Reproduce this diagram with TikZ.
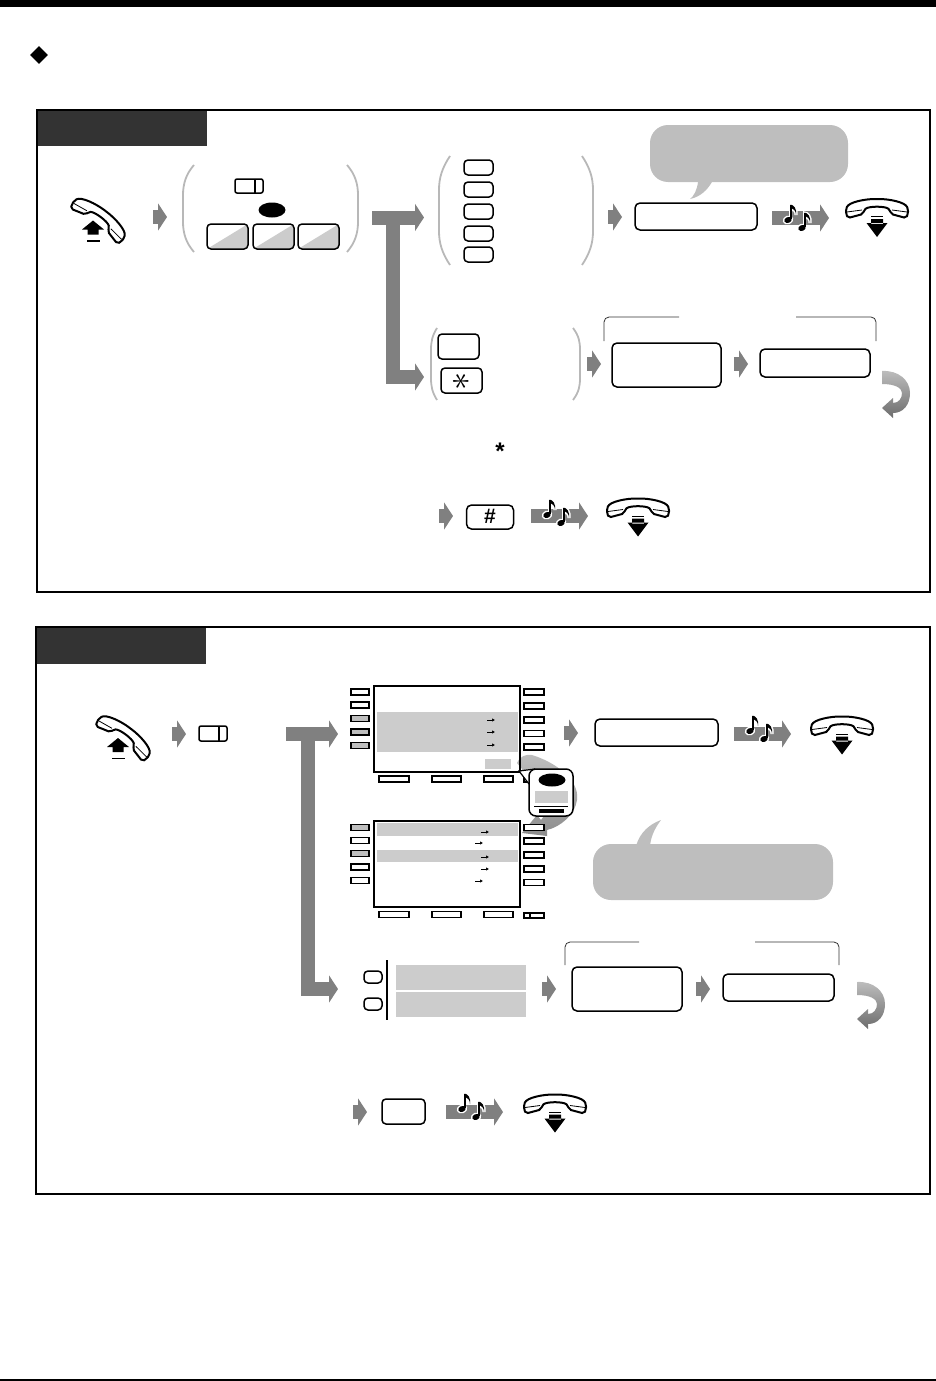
\documentclass[tikz,border=0pt]{standalone}
\usepackage{fontspec}
\setmainfont{Liberation Sans}
\usetikzlibrary{arrows.meta,shapes.geometric}
\pgfdeclarelayer{edgelayer}
\pgfdeclarelayer{nodelayer}
\pgfsetlayers{edgelayer,nodelayer,main}
\definecolor{arrowgrey}{HTML}{808080}
\definecolor{parengrey}{HTML}{B8B8B8}
\definecolor{bubblegrey}{HTML}{BEBEBE}
\definecolor{barsgrey}{HTML}{CCCCCC}
\definecolor{tabgrey}{HTML}{333333}
\tikzset{font=\footnotesize}
\tikzstyle{none}=[inner sep=0pt]
\tikzstyle{frame}=[rectangle,draw=black,line width=2pt,inner sep=0pt,outer sep=0pt]
\tikzstyle{tab}=[rectangle,fill=tabgrey,inner sep=0pt,outer sep=0pt]
\tikzstyle{keybox}=[rectangle,rounded corners=4pt,draw=black,fill=white,line width=1.5pt,inner sep=0pt,outer sep=0pt]
\tikzstyle{softkey}=[keybox,path picture={\fill[barsgrey] (path picture bounding box.south west) -- (path picture bounding box.north east) -- (path picture bounding box.south east) -- cycle;}]
\tikzstyle{sidekey}=[rectangle,draw=black,fill=white,line width=1.7pt,inner sep=0pt,outer sep=0pt]
\tikzstyle{sidekeyon}=[sidekey,fill=bubblegrey]
\tikzstyle{screen}=[rectangle,draw=black,line width=2pt,inner sep=0pt,outer sep=0pt]
\tikzstyle{bar}=[rectangle,fill=barsgrey,inner sep=0pt,outer sep=0pt]
\tikzstyle{bubble}=[rectangle,rounded corners=18pt,fill=bubblegrey,inner sep=0pt,outer sep=0pt]
\tikzstyle{lamp}=[ellipse,fill=black,inner sep=0pt,outer sep=0pt]
\tikzstyle{greyarrow}=[draw=arrowgrey,line width=14pt,-{Triangle[length=9pt,width=27pt]}]
\tikzstyle{paren}=[draw=parengrey,line width=1.8pt]
\tikzstyle{bracket}=[draw=black!80,line width=0.8pt,rounded corners=5pt]
\tikzstyle{cursor}=[draw=black,line width=0.9pt,-{Latex[length=3pt,width=3.5pt]}]
\tikzset{
	handset/.pic={
		\draw [fill=white,line width=2pt,rounded corners=2pt] (-31,0) .. controls (-28,-7) and (-12,-10) .. (0,-10) .. controls (12,-10) and (28,-7) .. (31,0) -- (31,5) -- (29,9) -- (14,5) -- (13,1) .. controls (8,-3) and (-8,-3) .. (-13,1) -- (-14,5) -- (-29,9) -- (-31,5) -- cycle;
		\draw [line width=0.8pt] (-30,3) -- (-15,1) (30,3) -- (15,1);
	},
	onhook/.pic={
		\path pic {handset};
		\fill (-6,7) rectangle (6,8.2);
		\fill (-6,10) rectangle (6,15) (-10.5,14) -- (10.5,14) -- (0,28) -- cycle;
	},
	offhook/.pic={
		\path (1.5,-0.5) pic [rotate=-37] {handset};
		\fill (-5,1) -- (-16,10) -- (-10.5,10) -- (-10.5,15) -- (0.5,15) -- (0.5,10) -- (6,10) -- cycle;
		\fill (-11,20.5) rectangle (1.5,22);
	},
	tonenote/.pic={
		\draw [white,line width=3pt,fill=white] (2.5,0) -- (2.5,-15) .. controls (6,-15) and (9,-11) .. (8,-5) .. controls (8,-9) and (6,-11) .. (2.5,-11);
		\fill [white,rotate=20] (0,0) ellipse (5.4 and 4.4);
		\fill [rotate=20] (0,0) ellipse (3.8 and 2.9);
		\draw [line width=1.4pt] (2.8,-1) -- (2.8,-15);
		\fill (2.5,-15.5) .. controls (6,-15) and (9,-11) .. (8,-5) .. controls (8,-9) and (6,-11) .. (2.5,-12) -- cycle;
	},
	backarrow/.pic={
		\shade [top color=bubblegrey,bottom color=arrowgrey!85!black] (0,1) .. controls (16,0) and (28,10) .. (28,23) .. controls (28,35) and (21,43) .. (11,43) -- (11,48) -- (0,38) -- (11,28) -- (11,33) .. controls (17,33) and (20,28) .. (20,23) .. controls (20,18) and (13,14) .. (0,14) -- cycle;
	}
}
\begin{document}
\begin{tikzpicture}[x=1pt,y=-1pt]
	\useasboundingbox (0,0) rectangle (936,1381);
	\begin{pgfonlayer}{edgelayer}
		\fill [bubblegrey] (698,182) .. controls (697,190) and (694,196) .. (690,199) .. controls (700,197) and (708,190) .. (713,180) -- cycle;
		\fill [bubblegrey] (636,846) .. controls (640,832) and (650,824) .. (661,820) .. controls (655,828) and (651,836) .. (650,846) -- cycle;
		\shade [top color=bubblegrey,bottom color=arrowgrey!90] (517,763) .. controls (520,756) and (526,754) .. (532,755) .. controls (555,762) and (580,780) .. (577,800) .. controls (575,815) and (560,827) .. (547,830) -- (547,836) -- (522,833) -- (537,815) -- (541,820) -- (552,805) -- cycle;
		\draw [style=paren] (194,165) .. controls (186,174) and (183,184) .. (183,195) -- (183,222) .. controls (183,233) and (186,243) .. (194,252);
		\draw [style=paren] (347,165) .. controls (355,174) and (358,184) .. (358,195) -- (358,222) .. controls (358,233) and (355,243) .. (347,252);
		\draw [style=paren] (450,156) .. controls (442,168) and (439,178) .. (439,190) -- (439,231) .. controls (439,243) and (442,253) .. (450,265);
		\draw [style=paren] (582,156) .. controls (590,168) and (593,178) .. (593,190) -- (593,231) .. controls (593,243) and (590,253) .. (582,265);
		\draw [style=paren] (437,328) .. controls (432,336) and (431,342) .. (431,350) -- (431,378) .. controls (431,386) and (432,392) .. (437,400);
		\draw [style=paren] (573,328) .. controls (579,336) and (580,342) .. (580,350) -- (580,378) .. controls (580,386) and (579,392) .. (573,400);
	\end{pgfonlayer}
	\begin{pgfonlayer}{nodelayer}
		\node [rectangle,fill=black,inner sep=0pt,minimum width=936pt,minimum height=7pt] (1) at (468,3.5) {};
		\node [diamond,fill=black,inner sep=0pt,minimum width=18pt,minimum height=18pt] (2) at (39,55) {};
		\node [style=frame,minimum width=893pt,minimum height=482pt] (3) at (483.5,351) {};
		\node [style=tab,minimum width=169pt,minimum height=35pt] (4) at (122.5,128.5) {};
		\node [style=frame,minimum width=894pt,minimum height=567pt] (5) at (483,910.5) {};
		\node [style=tab,minimum width=169pt,minimum height=36pt] (6) at (121.5,646) {};
		% first panel
		\node [style=keybox,rounded corners=2pt,minimum width=28pt,minimum height=14pt] (10) at (249,186) {};
		\node [style=lamp,minimum width=27pt,minimum height=15pt] (11) at (272,210) {};
		\node [style=softkey,minimum width=41pt,minimum height=25pt] (12) at (227.5,236.5) {};
		\node [style=softkey,minimum width=41pt,minimum height=25pt] (13) at (273.5,236.5) {};
		\node [style=softkey,minimum width=41pt,minimum height=25pt] (14) at (318.5,236.5) {};
		\node [style=keybox,minimum width=29pt,minimum height=15pt] (15) at (478.5,167.5) {};
		\node [style=keybox,minimum width=29pt,minimum height=15pt] (16) at (478.5,189.5) {};
		\node [style=keybox,minimum width=29pt,minimum height=15pt] (17) at (478.5,211.5) {};
		\node [style=keybox,minimum width=29pt,minimum height=15pt] (18) at (478.5,233.5) {};
		\node [style=keybox,minimum width=29pt,minimum height=15pt] (19) at (478.5,254.5) {};
		\node [style=bubble,minimum width=198pt,minimum height=57pt] (20) at (749,153.5) {};
		\node [style=keybox,rounded corners=5pt,minimum width=122pt,minimum height=27pt] (21) at (696,216.5) {};
		\node [style=keybox,minimum width=41pt,minimum height=25pt] (22) at (458.5,346.5) {};
		\node [style=keybox,minimum width=41pt,minimum height=25pt] (23) at (461.5,380.5) {};
		\node [rotate=90,font=\LARGE,inner sep=0pt] (24) at (461.5,381) {\scalebox{2.1}{$\ast$}};
		\node [style=keybox,rounded corners=5pt,minimum width=109pt,minimum height=44pt] (25) at (666.5,365) {};
		\node [style=keybox,rounded corners=5pt,minimum width=110pt,minimum height=28pt] (26) at (815,363) {};
		\node [font=\fontsize{24pt}{24pt}\selectfont\bfseries] (27) at (500,451) {*};
		\node [style=keybox,rounded corners=5pt,minimum width=47pt,minimum height=24pt] (28) at (490,517) {};
		\node [font=\fontsize{21pt}{21pt}\selectfont\bfseries] (29) at (490,516.5) {\#};
		% second panel
		\node [style=keybox,rounded corners=2pt,minimum width=28pt,minimum height=15pt] (40) at (213,733.5) {};
		\node [style=screen,minimum width=146pt,minimum height=86pt] (41) at (447,729) {};
		\node [style=bar,minimum width=141pt,minimum height=40pt] (42) at (447.5,732) {};
		\node [style=bar,minimum width=26pt,minimum height=10pt] (43) at (498,764) {};
		\node [style=sidekey,minimum width=18pt,minimum height=6pt] (44) at (360,692) {};
		\node [style=sidekey,minimum width=18pt,minimum height=6pt] (45) at (360,705) {};
		\node [style=sidekeyon,minimum width=18pt,minimum height=6pt] (46) at (360,718.5) {};
		\node [style=sidekeyon,minimum width=18pt,minimum height=6pt] (47) at (360,732) {};
		\node [style=sidekeyon,minimum width=18pt,minimum height=6pt] (48) at (360,745.5) {};
		\node [style=sidekey,minimum width=20pt,minimum height=6pt] (49) at (534,692) {};
		\node [style=sidekey,minimum width=20pt,minimum height=6pt] (50) at (534,706) {};
		\node [style=sidekey,minimum width=20pt,minimum height=6pt] (51) at (534,720) {};
		\node [style=sidekey,minimum width=20pt,minimum height=6pt] (52) at (534,733.5) {};
		\node [style=sidekey,minimum width=20pt,minimum height=6pt] (53) at (534,747) {};
		\node [style=sidekey,minimum width=30pt,minimum height=6pt] (54) at (394,779) {};
		\node [style=sidekey,minimum width=29pt,minimum height=6pt] (55) at (446.5,779) {};
		\node [style=sidekey,minimum width=29pt,minimum height=6pt] (56) at (498.5,779) {};
		\node [style=sidekey,minimum width=20pt,minimum height=6pt] (57) at (534,779) {};
		\node [style=screen,minimum width=146pt,minimum height=86pt] (58) at (447,864) {};
		\node [style=bar,minimum width=141pt,minimum height=13pt] (59) at (447.5,829.5) {};
		\node [style=bar,minimum width=141pt,minimum height=12pt] (60) at (447.5,856) {};
		\node [style=sidekeyon,minimum width=18pt,minimum height=6pt] (61) at (360,827.5) {};
		\node [style=sidekey,minimum width=18pt,minimum height=6pt] (62) at (360,840.5) {};
		\node [style=sidekeyon,minimum width=18pt,minimum height=6pt] (63) at (360,853.5) {};
		\node [style=sidekey,minimum width=18pt,minimum height=6pt] (64) at (360,867) {};
		\node [style=sidekey,minimum width=18pt,minimum height=6pt] (65) at (360,880.5) {};
		\node [style=sidekey,minimum width=20pt,minimum height=6pt] (66) at (534,827.5) {};
		\node [style=sidekey,minimum width=20pt,minimum height=6pt] (67) at (534,841) {};
		\node [style=sidekey,minimum width=20pt,minimum height=6pt] (68) at (534,855) {};
		\node [style=sidekey,minimum width=20pt,minimum height=6pt] (69) at (534,869) {};
		\node [style=sidekey,minimum width=20pt,minimum height=6pt] (70) at (534,882.5) {};
		\node [style=sidekey,minimum width=30pt,minimum height=6pt] (71) at (394,914.5) {};
		\node [style=sidekey,minimum width=29pt,minimum height=6pt] (72) at (446.5,914.5) {};
		\node [style=sidekey,minimum width=29pt,minimum height=6pt] (73) at (498.5,914.5) {};
		\node [style=sidekey,minimum width=20pt,minimum height=5pt] (74) at (534,915.5) {};
		\node [style=keybox,rounded corners=5pt,minimum width=123pt,minimum height=27pt] (75) at (656.5,732.5) {};
		\node [style=bubble,minimum width=240pt,minimum height=56pt] (76) at (713,872) {};
		\node [style=keybox,minimum width=18pt,minimum height=12pt] (77) at (373,977) {};
		\node [style=keybox,minimum width=18pt,minimum height=12pt] (78) at (373,1004) {};
		\node [style=bar,minimum width=130pt,minimum height=25pt] (79) at (461,977.5) {};
		\node [style=bar,minimum width=130pt,minimum height=25pt] (80) at (461,1004.5) {};
		\node [style=keybox,rounded corners=5pt,minimum width=110pt,minimum height=44pt] (81) at (627,989) {};
		\node [style=keybox,rounded corners=5pt,minimum width=111pt,minimum height=27pt] (82) at (778.5,987.5) {};
		\node [style=keybox,minimum width=43pt,minimum height=25pt] (83) at (403.5,1111.5) {};
		% arrow ends
		\node [style=none] (100) at (153,217) {};
		\node [style=none] (101) at (167,217) {};
		\node [style=none] (102) at (372,217.5) {};
		\node [style=none] (103) at (424,217.5) {};
		\node [style=none] (104) at (393,217.5) {};
		\node [style=none] (105) at (393,377) {};
		\node [style=none] (106) at (424,377) {};
		\node [style=none] (107) at (608,217) {};
		\node [style=none] (108) at (622,217) {};
		\node [style=none] (109) at (772,218) {};
		\node [style=none] (110) at (829,218) {};
		\node [style=none] (111) at (587,364) {};
		\node [style=none] (112) at (601,364) {};
		\node [style=none] (113) at (734,364) {};
		\node [style=none] (114) at (748,364) {};
		\node [style=none] (115) at (439,516) {};
		\node [style=none] (116) at (453,516) {};
		\node [style=none] (117) at (531,516) {};
		\node [style=none] (118) at (588,516) {};
		\node [style=none] (119) at (172,734) {};
		\node [style=none] (120) at (186,734) {};
		\node [style=none] (121) at (286,734) {};
		\node [style=none] (122) at (338,734) {};
		\node [style=none] (123) at (308,734) {};
		\node [style=none] (124) at (308,989) {};
		\node [style=none] (125) at (338,989) {};
		\node [style=none] (126) at (564,733) {};
		\node [style=none] (127) at (578,733) {};
		\node [style=none] (128) at (734,734) {};
		\node [style=none] (129) at (791,734) {};
		\node [style=none] (130) at (542,989) {};
		\node [style=none] (131) at (556,989) {};
		\node [style=none] (132) at (696,989) {};
		\node [style=none] (133) at (710,989) {};
		\node [style=none] (134) at (353,1112) {};
		\node [style=none] (135) at (367,1112) {};
		\node [style=none] (136) at (446,1112) {};
		\node [style=none] (137) at (503,1112) {};
	\end{pgfonlayer}
	\begin{pgfonlayer}{edgelayer}
		\draw [style=greyarrow] (100.center) to (101.center);
		\draw [style=greyarrow] (102.center) to (103.center);
		\draw [style=greyarrow] (104.center) -- (105.center) -- (106.center);
		\draw [style=greyarrow] (107.center) to (108.center);
		\draw [style=greyarrow] (109.center) to (110.center);
		\draw [style=greyarrow] (111.center) to (112.center);
		\draw [style=greyarrow] (113.center) to (114.center);
		\draw [style=greyarrow] (115.center) to (116.center);
		\draw [style=greyarrow] (117.center) to (118.center);
		\draw [style=greyarrow] (119.center) to (120.center);
		\draw [style=greyarrow] (121.center) to (122.center);
		\draw [style=greyarrow] (123.center) -- (124.center) -- (125.center);
		\draw [style=greyarrow] (126.center) to (127.center);
		\draw [style=greyarrow] (128.center) to (129.center);
		\draw [style=greyarrow] (130.center) to (131.center);
		\draw [style=greyarrow] (132.center) to (133.center);
		\draw [style=greyarrow] (134.center) to (135.center);
		\draw [style=greyarrow] (136.center) to (137.center);
	\end{pgfonlayer}
	\draw [line width=1.4pt] (10.north) ++(6,0) -- ++(0,14);
	\draw [line width=1.4pt] (40.north) ++(6,0) -- ++(0,15);
	\draw [line width=1.5pt] (0,1380) -- (936,1380);
	\draw [line width=2pt] (387,960) -- (387,1020);
	\draw [style=bracket] (604,341) -- (604,317) -- (679,317);
	\draw [style=bracket] (796,317) -- (876,317) -- (876,341);
	\draw [style=bracket] (565,965) -- (565,942) -- (639,942);
	\draw [style=bracket] (755,942) -- (839,942) -- (839,965);
	% cursors on the screens
	\draw [style=cursor] (487,720) -- (495,720);
	\draw [style=cursor] (487,732) -- (495,732);
	\draw [style=cursor] (487,745) -- (495,745);
	\draw [style=cursor] (481,832) -- (489,832);
	\draw [style=cursor] (475,843) -- (483,843);
	\draw [style=cursor] (481,857) -- (489,857);
	\draw [style=cursor] (481,869) -- (489,869);
	\draw [style=cursor] (475,881) -- (483,881);
	\draw [line width=1.2pt] (530,913) -- (530,918);
	% soft key callout
	\draw [fill=white,line width=1.2pt] (529,784) -- (519,771) -- (535,769);
	\node [style=keybox,rounded corners=7pt,minimum width=44pt,minimum height=47pt] (90) at (551,792.5) {};
	\node [style=lamp,minimum width=27pt,minimum height=13pt] (91) at (552,780) {};
	\node [style=bar,minimum width=33pt,minimum height=12pt] (92) at (551.5,797) {};
	\node [rectangle,fill=black,inner sep=0pt,minimum width=25pt,minimum height=4pt] (93) at (551.5,811) {};
	\draw [line width=0.8pt] (534,806) -- (568,806);
	\pic at (98,219.5) {offhook};
	\pic at (123,737) {offhook};
	\pic at (877,209) {onhook};
	\pic at (638,508.5) {onhook};
	\pic at (842,726.5) {onhook};
	\pic at (555,1104.5) {onhook};
	\pic at (788,220) {tonenote};
	\pic at (802,228) {tonenote};
	\pic at (547,515) {tonenote};
	\pic at (561,523) {tonenote};
	\pic at (750,731) {tonenote};
	\pic at (764,739) {tonenote};
	\pic at (462,1109) {tonenote};
	\pic at (476,1117) {tonenote};
	\pic at (882,370) {backarrow};
	\pic at (857,981) {backarrow};
\end{tikzpicture}
\end{document}
